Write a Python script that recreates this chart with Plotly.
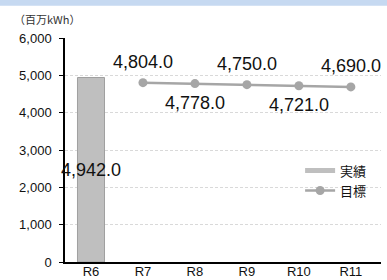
import plotly.graph_objects as go

categories = ["R6", "R7", "R8", "R9", "R10", "R11"]
actual_cats = ["R6"]
actual_vals = [4942.0]
target_cats = ["R7", "R8", "R9", "R10", "R11"]
target_vals = [4804.0, 4778.0, 4750.0, 4721.0, 4690.0]
y_ticks = [0, 1000, 2000, 3000, 4000, 5000, 6000]

FONT = "Liberation Sans, Arial, Noto Sans CJK JP, sans-serif"
JP = "Noto Sans CJK JP, Liberation Sans, sans-serif"

PLOT_H = 225.0

fig = go.Figure()
fig.add_trace(go.Bar(
    x=actual_cats, y=actual_vals, name="実績", showlegend=False,
    marker=dict(color="#bfbfbf", line=dict(color="#a0a0a0", width=1)),
    width=0.52,
))
# legend proxy for the bar series (thin bar swatch like the original)
fig.add_trace(go.Scatter(
    x=[None], y=[None], name="実績", mode="lines",
    line=dict(color="#bfbfbf", width=5),
))
fig.add_trace(go.Scatter(
    x=target_cats, y=target_vals, name="目標", mode="lines+markers",
    line=dict(color="#a6a6a6", width=2.5),
    marker=dict(color="#a6a6a6", size=9),
))

annotations = []
for c, v in zip(actual_cats, actual_vals):
    annotations.append(dict(x=c, y=v / 2, text=f"{v:,.1f}", showarrow=False,
                            font=dict(size=18, color="#111", family=FONT)))
for i, (c, v) in enumerate(zip(target_cats, target_vals)):
    annotations.append(dict(x=c, y=v, text=f"{v:,.1f}", showarrow=False,
                            yshift=21 if i % 2 == 0 else -19,
                            font=dict(size=18, color="#111", family=FONT)))
annotations.append(dict(xref="paper", yref="paper", x=-0.168, y=1 + 19.5 / PLOT_H,
                        xanchor="left", yanchor="middle", text="（百万kWh）",
                        showarrow=False, font=dict(size=11, color="#333", family=JP)))

fig.update_layout(
    width=387, height=280,
    margin=dict(l=65, r=6, t=37.5, b=17.5, autoexpand=False),
    paper_bgcolor="white", plot_bgcolor="white",
    showlegend=True,
    legend=dict(x=0.744, y=0.475, xanchor="left", yanchor="top",
                font=dict(size=13, color="#111", family=JP),
                bgcolor="rgba(0,0,0,0)", tracegroupgap=0, itemwidth=30),
    annotations=annotations,
    shapes=[dict(type="rect", xref="paper", yref="paper", x0=-0.3, x1=1.1,
                 y0=1 + 32.5 / PLOT_H, y1=1.3, fillcolor="#c6d9f1", line=dict(width=0),
                 layer="below")],
)
fig.update_xaxes(
    categoryorder="array", categoryarray=categories,
    range=[-0.5, 5.58], showline=True, linecolor="black", linewidth=1.5,
    ticks="", showgrid=False, automargin=False, ticklabelstandoff=-3,
    tickfont=dict(size=13, color="#111", family=FONT),
)
fig.update_yaxes(
    range=[0, 6000], tickvals=y_ticks, tickformat=",d",
    showline=True, linecolor="black", linewidth=1.5,
    ticks="outside", ticklen=4, tickcolor="black", automargin=False,
    ticklabelstandoff=5,
    showgrid=True, gridcolor="#d9d9d9", griddash="3px,2px", gridwidth=1,
    zeroline=False,
    tickfont=dict(size=13, color="#111", family=FONT),
)
fig.write_html(
    "out.html",
    config={"displayModeBar": False},
    post_script="document.body.style.margin='0';document.body.style.padding='0';"
                "document.body.style.overflow='hidden';",
)
